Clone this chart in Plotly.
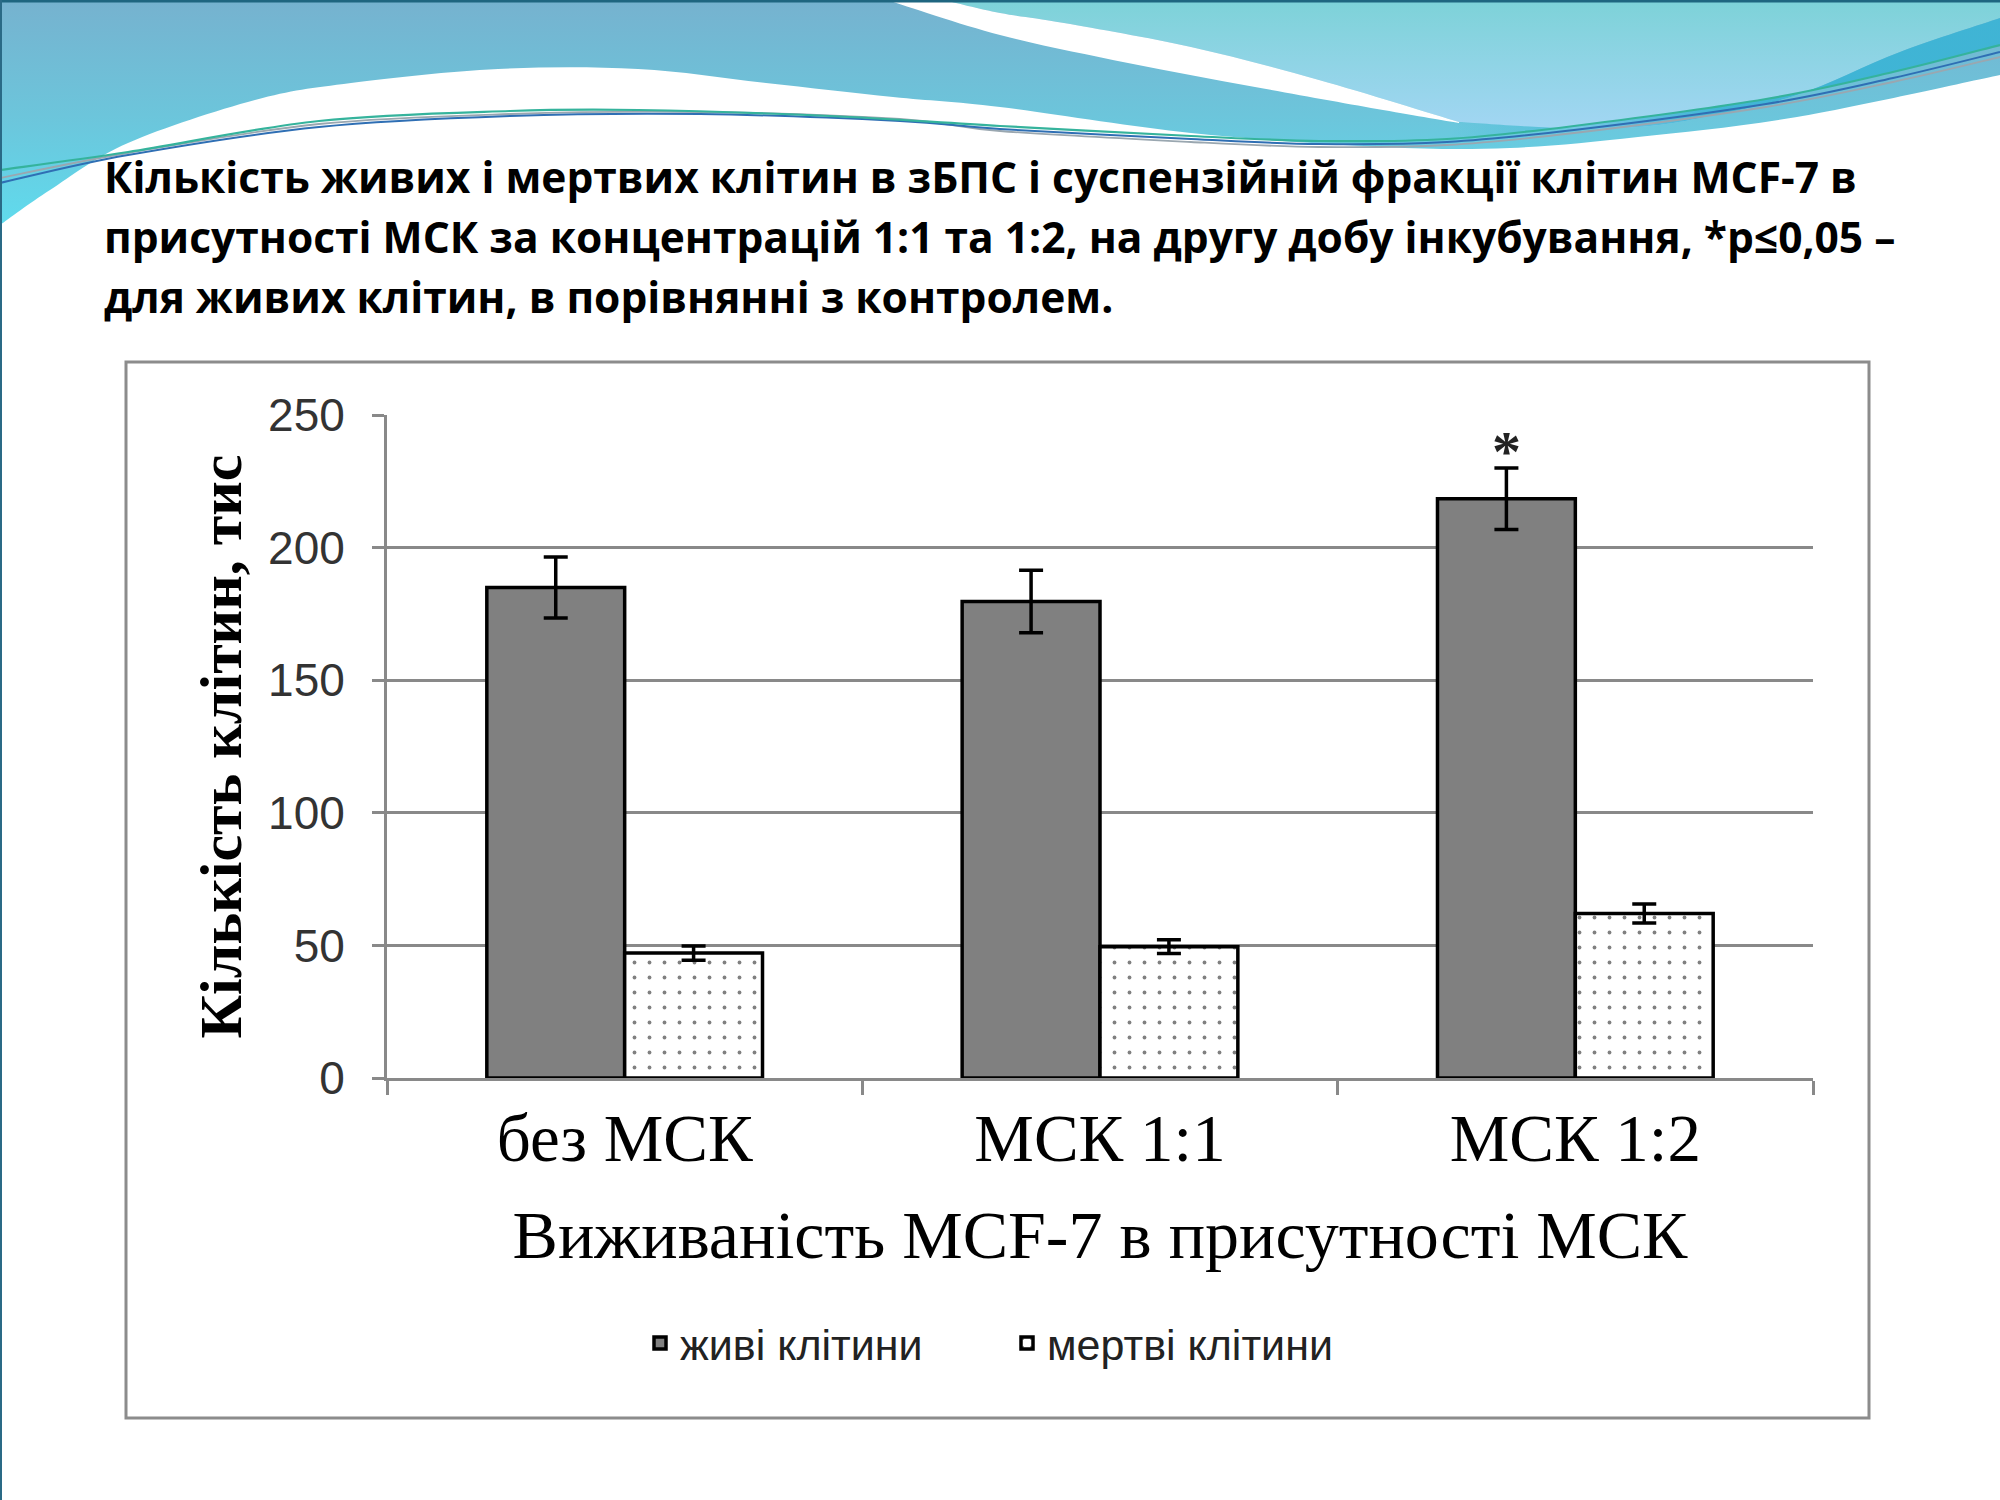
import base64
import plotly.graph_objects as go

# ---------------- data ----------------
categories = ["без МСК", "МСК 1:1", "МСК 1:2"]
series_names = ["живі клітини", "мертві клітини"]
live_values = [185.0, 179.7, 218.4]
live_errors = [11.5, 11.8, 11.6]
dead_values = [47.1, 49.5, 62.0]
dead_errors = [2.7, 2.6, 3.6]
significance = ["", "", "*"]
y_tick_values = [0, 50, 100, 150, 200, 250]
y_tick_labels = ["0", "50", "100", "150", "200", "250"]
title_lines = [
    "Кількість живих і мертвих клітин в зБПС і суспензійній фракції клітин MCF-7 в",
    "присутності МСК за концентрацій 1:1 та 1:2, на другу добу інкубування, *p≤0,05 –",
    "для живих клітин, в порівнянні з контролем.",
]
x_title = "Виживаність MCF-7 в присутності МСК"
y_title = "Кількість клітин, тис"

# ---------------- geometry helpers ----------------
FW, FH = 2000, 1500
ML, MR, MT, MB = 387, 187, 415, 422
PW, PH = FW - ML - MR, FH - MT - MB


def px(x):
    return (x - ML) / PW


def py(y):
    return 1 - (y - MT) / PH


def smooth(points, start="M"):
    d = f"{start}{points[0][0]},{points[0][1]}"
    n = len(points)
    for i in range(n - 1):
        p0 = points[i - 1] if i > 0 else points[i]
        p1 = points[i]
        p2 = points[i + 1]
        p3 = points[i + 2] if i + 2 < n else points[i + 1]
        c1 = (p1[0] + (p2[0] - p0[0]) / 6, p1[1] + (p2[1] - p0[1]) / 6)
        c2 = (p2[0] - (p3[0] - p1[0]) / 6, p2[1] - (p3[1] - p1[1]) / 6)
        d += f" C{c1[0]:.1f},{c1[1]:.1f} {c2[0]:.1f},{c2[1]:.1f} {p2[0]},{p2[1]}"
    return d


# ---------------- decorative header wave (SVG image) ----------------
b_bottom = [(2000, 75), (1797, 117), (1638, 137), (1510, 148), (1383, 147), (1191, 133),
            (1000, 107), (893, 97), (766, 83), (638, 69), (498, 69), (351, 83), (255, 100),
            (128, 143), (50, 190), (0, 225)]
r_bottom = [(2000, 18), (1900, 52), (1797, 95), (1700, 118), (1638, 127), (1560, 128), (1459, 122)]
streak_up = [(1459, 122), (1319, 80), (1191, 47), (1064, 23), (1000, 13), (944, 0)]
streak_lo = [(887, 0), (1000, 35), (1128, 63), (1255, 87), (1383, 110), (1459, 123)]
s1 = [(0, 170), (128, 152), (319, 121), (510, 111), (638, 110), (830, 116), (1000, 126),
      (1191, 136), (1319, 141), (1447, 139), (1574, 126), (1766, 99), (1893, 72), (2000, 45)]
s2 = [(0, 183), (128, 155), (319, 127), (510, 116), (700, 114), (900, 121), (1000, 129),
      (1191, 139), (1319, 144), (1447, 142), (1574, 130), (1766, 104), (1893, 78), (2000, 52)]
s3 = [(0, 178), (128, 153), (319, 124), (510, 114), (700, 112), (900, 119), (1000, 131),
      (1191, 142), (1319, 147), (1447, 145), (1574, 133), (1766, 107), (1893, 82), (2000, 57)]

path_b = "M0,0 L2000,0 " + smooth(b_bottom, "L") + " Z"
path_r = "M944,0 L2000,0 " + smooth(r_bottom, "L") + " " + smooth(streak_up, "L")[len("L1459,122"):] + " Z"
path_w = smooth(streak_lo) + " " + smooth(streak_up, "L") + " Z"
s1_rev = [p for p in reversed(s1) if p[0] >= 1447]
path_d = smooth(list(reversed(r_bottom))) + " L2000,45 " + smooth(s1_rev, "L") + " Z"

svg = f'''<svg xmlns="http://www.w3.org/2000/svg" width="2000" height="330" viewBox="0 0 2000 330">
<defs>
<linearGradient id="gB" x1="0" y1="0" x2="0" y2="230" gradientUnits="userSpaceOnUse">
<stop offset="0" stop-color="#76b2cf"/><stop offset="0.5" stop-color="#6cc5db"/><stop offset="1" stop-color="#5fdcee"/>
</linearGradient>
<linearGradient id="gR" x1="0" y1="0" x2="0" y2="128" gradientUnits="userSpaceOnUse">
<stop offset="0" stop-color="#7dd2d8"/><stop offset="1" stop-color="#a2d6f3"/>
</linearGradient>
<linearGradient id="gD" x1="1450" y1="0" x2="1720" y2="0" gradientUnits="userSpaceOnUse">
<stop offset="0" stop-color="#3db4d5" stop-opacity="0"/><stop offset="1" stop-color="#3db4d5" stop-opacity="0.95"/>
</linearGradient>
</defs>
<path d="{path_b}" fill="url(#gB)"/>
<path d="{path_r}" fill="url(#gR)"/>
<path d="{path_d}" fill="url(#gD)"/>
<path d="{path_w}" fill="#ffffff"/>
<path d="{smooth(s3)}" fill="none" stroke="#9aa7b0" stroke-width="1.8"/>
<path d="{smooth(s2)}" fill="none" stroke="#2f6fb4" stroke-width="2"/>
<path d="{smooth(s1)}" fill="none" stroke="#35b39c" stroke-width="2.2"/>
<rect x="0" y="0" width="2000" height="2.5" fill="#1f6680"/>
</svg>'''
svg_uri = "data:image/svg+xml;base64," + base64.b64encode(svg.encode("utf-8")).decode("ascii")

# ---------------- figure ----------------
GRID = "#898989"
bargap = 0.42
bar_w = (1 - bargap) / 2
SERIF = "Liberation Serif, Times New Roman, serif"
SANS = "Liberation Sans, Arial, sans-serif"

fig = go.Figure()
fig.add_trace(go.Bar(
    name=series_names[0], x=categories, y=live_values,
    marker=dict(color="#808080", line=dict(color="black", width=3.5)),
    error_y=dict(type="data", array=live_errors, color="black", thickness=3.5, width=12),
))
fig.add_trace(go.Bar(
    name=series_names[1], x=categories, y=dead_values,
    marker=dict(color="white", line=dict(color="black", width=3.5),
                pattern=dict(shape=".", fgcolor="#808080", bgcolor="white",
                             size=15, solidity=0.05, fillmode="replace")),
    error_y=dict(type="data", array=dead_errors, color="black", thickness=3.5, width=12),
))

annotations = []
for i, s in enumerate(significance):
    if s:
        annotations.append(dict(
            x=i - bar_w / 2, y=live_values[i] + live_errors[i], xref="x", yref="y",
            text=s, showarrow=False, xanchor="center", yanchor="bottom", yshift=-18,
            font=dict(family=SERIF, size=58, color="#222", weight="bold"),
        ))

title_centers = [177, 236, 296]
for line, cy in zip(title_lines, title_centers):
    annotations.append(dict(
        x=px(102), y=py(cy), xref="paper", yref="paper", text=line, showarrow=False,
        xanchor="left", yanchor="middle",
        font=dict(family="Open Sans, Noto Sans, sans-serif", size=42.5, color="black", weight="bold"),
    ))

shapes = [
    dict(type="rect", xref="paper", yref="paper", x0=px(126), x1=px(1869), y0=py(362), y1=py(1418),
         line=dict(color="#8c8c8c", width=3), fillcolor="white", layer="below"),
    dict(type="line", xref="paper", yref="paper", x0=px(1), x1=px(1), y0=py(0), y1=py(1500),
         line=dict(color="#2a6a86", width=2), layer="below"),
]

fig.update_layout(
    width=FW, height=FH,
    margin=dict(l=ML, r=MR, t=MT, b=MB, autoexpand=False),
    paper_bgcolor="white", plot_bgcolor="white",
    barmode="group", bargap=bargap, bargroupgap=0,
    showlegend=True,
    legend=dict(orientation="h", x=px(640), xanchor="left", y=py(1343), yanchor="middle",
                font=dict(family=SANS, size=43, color="#222"),
                entrywidth=322, bgcolor="rgba(0,0,0,0)"),
    xaxis=dict(
        type="category", categoryorder="array", categoryarray=categories,
        showline=True, linecolor=GRID, linewidth=3,
        ticks="outside", tickson="boundaries", ticklen=14, tickwidth=3, tickcolor=GRID,
        tickfont=dict(family=SERIF, size=67, color="black"),
        title=dict(text=x_title, standoff=36,
                   font=dict(family=SERIF, size=68, color="black")),
        showgrid=False, fixedrange=True,
    ),
    yaxis=dict(
        range=[0, 250], tickmode="array", tickvals=y_tick_values, ticktext=y_tick_labels,
        showgrid=True, gridcolor=GRID, gridwidth=3, zeroline=False,
        showline=True, linecolor=GRID, linewidth=3,
        ticks="outside", ticklen=12, tickwidth=3, tickcolor=GRID,
        ticklabelstandoff=18,
        tickfont=dict(family=SANS, size=46, color="#333"),
        title=dict(text=y_title, standoff=8,
                   font=dict(family=SERIF, size=60, color="black", weight="bold")),
        fixedrange=True,
    ),
    images=[dict(source=svg_uri, xref="paper", yref="paper", x=px(0), y=py(0),
                 sizex=2000 / PW, sizey=330 / PH, xanchor="left", yanchor="top",
                 sizing="stretch", layer="below")],
    annotations=annotations,
    shapes=shapes,
)

fig.write_html("out.html", config={"displayModeBar": False, "staticPlot": True},
               post_script="document.body.style.margin='0';document.body.style.overflow='hidden';")
